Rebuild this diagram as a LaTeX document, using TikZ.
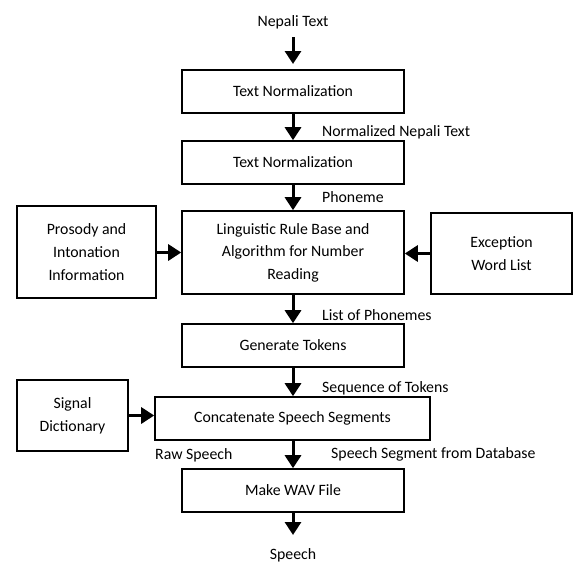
\documentclass[tikz,border=0pt]{standalone}
\usepackage{fontspec}
\setmainfont{Carlito}
\usetikzlibrary{arrows.meta}
\begin{document}
\begin{tikzpicture}[x=1pt,y=-1pt,
  every node/.style={font=\fontsize{15.8}{22.6}\selectfont},
  box/.style={draw,line width=1.6pt,minimum height=43pt,minimum width=222pt,align=center,inner sep=0pt},
  lbl/.style={anchor=west,inner sep=0pt},
  arr/.style={line width=3pt,-{Triangle[width=16pt,length=13pt]}}]
\useasboundingbox (0,0) rectangle (573,563);
\node (nt) at (293,22) {Nepali Text};
\node[box] (b1) at (293,91.5) {Text Normalization};
\node[box] (b2) at (293,162.5) {Text Normalization};
\node[box,minimum height=83pt] (b3) at (293,252.5) {Linguistic Rule Base and\\Algorithm for Number\\Reading};
\node[box,minimum width=139pt,minimum height=92pt] (pr) at (86.5,252) {Prosody and\\Intonation\\Information};
\node[box,minimum width=141pt,minimum height=81pt] (ex) at (501.5,253.5) {Exception\\Word List};
\node[box] (b4) at (293,345.5) {Generate Tokens};
\node[box,minimum width=275pt] (b5) at (292.5,418.5) {Concatenate Speech Segments};
\node[box,minimum width=111pt,minimum height=71pt] (sd) at (72.5,415.5) {Signal\\Dictionary};
\node[box] (b6) at (293,490.5) {Make WAV File};
\node (sp) at (293,555) {Speech};
\coordinate (s0) at (293,37);
\coordinate (e0) at (293,64);
\coordinate (e7) at (293,535);
\node[lbl] (l1) at (322,132) {Normalized Nepali Text};
\node[lbl] (l2) at (322,197) {Phoneme};
\node[lbl] (l3) at (322,315) {List of Phonemes};
\node[lbl] (l4) at (322,388) {Sequence of Tokens};
\node[lbl] (l5) at (155,455) {Raw Speech};
\node[lbl] (l6) at (331,454) {Speech Segment from Database};
\draw[arr] (s0) -- (e0);
\draw[arr] (b1) -- (b2);
\draw[arr] (b2) -- (b3);
\draw[arr] (pr.east |- b3) -- (b3.west);
\draw[arr] (ex.west) -- (b3.east |- ex);
\draw[arr] (b3) -- (b4);
\draw[arr] (b4) -- (b4 |- b5.north);
\draw[arr] (sd.east) -- (b5.west |- sd);
\draw[arr] (b5.south -| b6) -- (b6);
\draw[arr] (b6) -- (e7);
\end{tikzpicture}
\end{document}
